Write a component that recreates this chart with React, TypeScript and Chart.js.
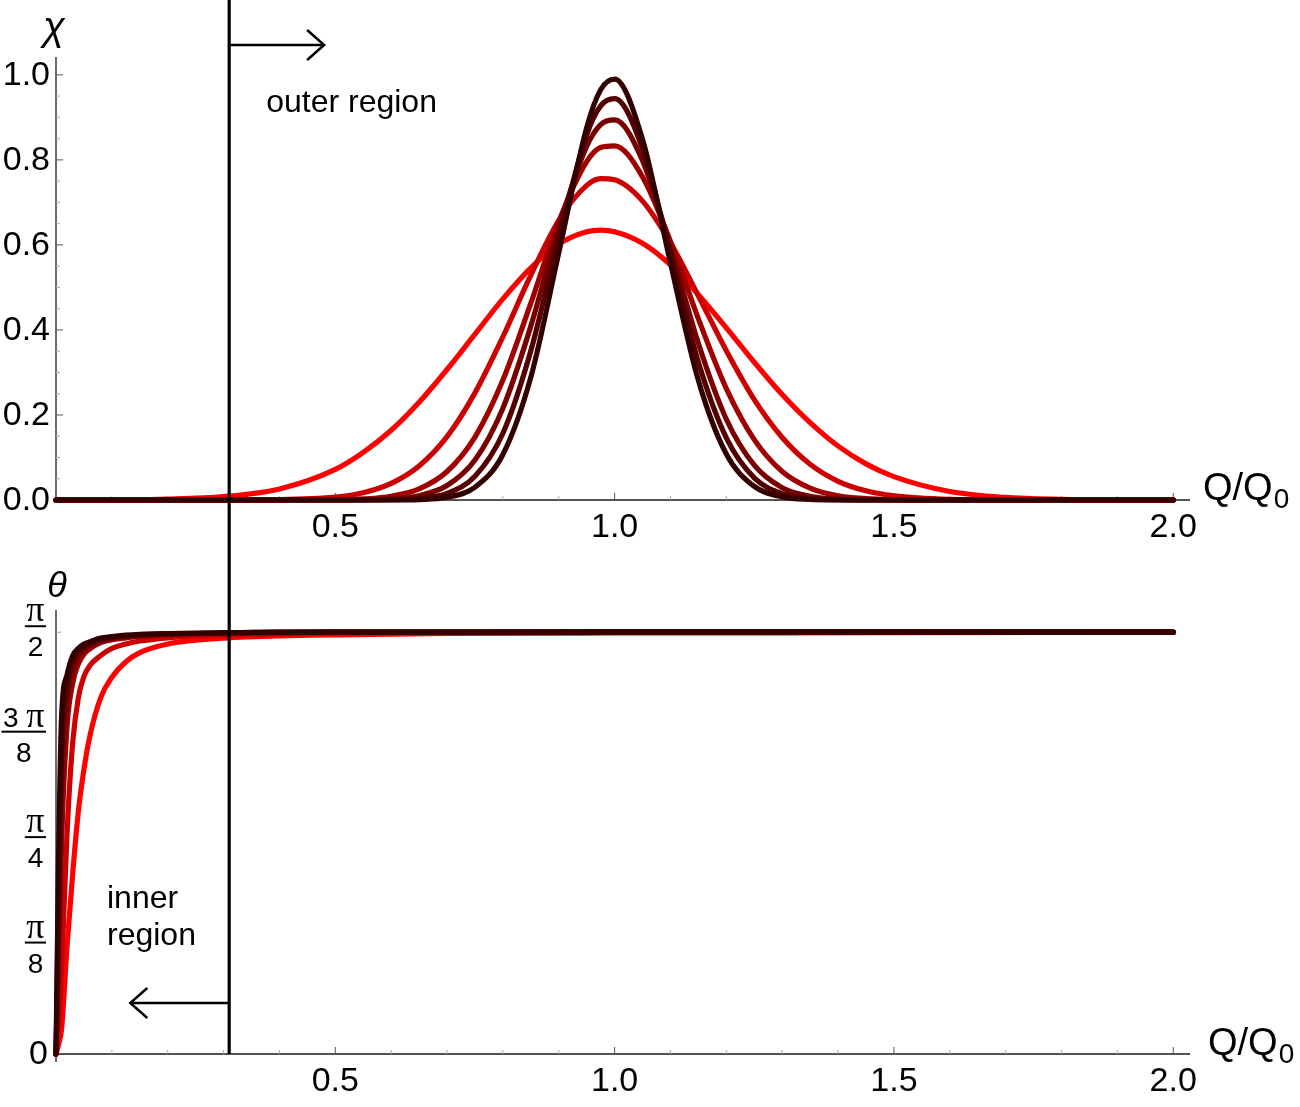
"use client"

import { useEffect, useRef } from "react"
import Chart from "chart.js/auto"

const SANS = '"Liberation Sans", Arial, sans-serif'
const SERIF = '"Liberation Serif", "DejaVu Serif", serif'

// upper panel: chi against Q/Q0
const qTop = [0, 0.1, 0.2, 0.3, 0.4, 0.5, 0.55, 0.6, 0.65, 0.7, 0.75, 0.8, 0.85, 0.9, 0.95, 0.975, 1.0, 1.05, 1.1, 1.15, 1.2, 1.25, 1.3, 1.35, 1.4, 1.45, 1.5, 1.6, 1.7, 1.8, 1.9, 2.0]
const chi1 = [0.0001, 0.0004, 0.002, 0.008, 0.026, 0.072, 0.112, 0.164, 0.23, 0.307, 0.39, 0.473, 0.546, 0.602, 0.631, 0.635, 0.631, 0.604, 0.553, 0.483, 0.405, 0.324, 0.248, 0.182, 0.127, 0.085, 0.055, 0.02, 0.006, 0.0015, 0.0003, 0.0001]
const chi2 = [0, 0, 0, 0.0001, 0.0008, 0.0067, 0.017, 0.039, 0.08, 0.149, 0.252, 0.384, 0.529, 0.658, 0.74, 0.756, 0.753, 0.703, 0.605, 0.48, 0.351, 0.236, 0.147, 0.084, 0.044, 0.0215, 0.0096, 0.0015, 0.0002, 0, 0, 0]
const chi3 = [0, 0, 0, 0, 0, 0.0006, 0.0025, 0.0087, 0.026, 0.067, 0.148, 0.282, 0.463, 0.655, 0.796, 0.829, 0.833, 0.76, 0.608, 0.426, 0.262, 0.142, 0.067, 0.028, 0.01, 0.0032, 0.0009, 0, 0, 0, 0, 0]
const chi4 = [0, 0, 0, 0, 0, 0.0001, 0.0005, 0.0025, 0.0102, 0.034, 0.094, 0.216, 0.409, 0.641, 0.832, 0.883, 0.894, 0.798, 0.594, 0.368, 0.19, 0.082, 0.029, 0.0087, 0.0022, 0.0004, 0.0001, 0, 0, 0, 0, 0]
const chi5 = [0, 0, 0, 0, 0, 0, 0.0001, 0.0006, 0.0035, 0.0156, 0.0558, 0.157, 0.351, 0.618, 0.859, 0.927, 0.944, 0.826, 0.579, 0.324, 0.146, 0.052, 0.015, 0.0035, 0.0006, 0.0001, 0, 0, 0, 0, 0, 0]
const chi6 = [0, 0, 0, 0, 0, 0, 0, 0.0001, 0.001, 0.0063, 0.03, 0.107, 0.289, 0.581, 0.876, 0.965, 0.99, 0.848, 0.557, 0.281, 0.108, 0.032, 0.0073, 0.0013, 0.0002, 0, 0, 0, 0, 0, 0, 0]

// lower panel: theta (radians) against Q/Q0
const qBottom = [0, 0.005, 0.01, 0.02, 0.03, 0.04, 0.05, 0.06, 0.08, 0.1, 0.125, 0.15, 0.2, 0.25, 0.3, 0.4, 0.5, 0.7, 1.0, 1.5, 2.0]
const theta1 = [0, 0.039, 0.094, 0.408, 0.675, 0.903, 1.06, 1.178, 1.327, 1.403, 1.461, 1.495, 1.527, 1.541, 1.549, 1.557, 1.561, 1.566, 1.568, 1.569, 1.571]
const theta2 = [0, 0.11, 0.314, 0.833, 1.162, 1.327, 1.406, 1.445, 1.484, 1.511, 1.527, 1.538, 1.55, 1.557, 1.56, 1.565, 1.568, 1.569, 1.571, 1.571, 1.571]
const theta3 = [0, 0.314, 0.785, 1.225, 1.382, 1.453, 1.489, 1.508, 1.532, 1.543, 1.55, 1.555, 1.561, 1.565, 1.566, 1.569, 1.571, 1.571, 1.571, 1.571, 1.571]
const theta4 = [0, 0.471, 0.974, 1.304, 1.429, 1.48, 1.505, 1.519, 1.538, 1.547, 1.554, 1.558, 1.563, 1.566, 1.568, 1.569, 1.571, 1.571, 1.571, 1.571, 1.571]
const theta5 = [0, 0.628, 1.131, 1.367, 1.461, 1.497, 1.517, 1.527, 1.544, 1.552, 1.557, 1.561, 1.565, 1.566, 1.568, 1.571, 1.571, 1.571, 1.571, 1.571, 1.571]
const theta6 = [0, 0.785, 1.257, 1.414, 1.484, 1.511, 1.527, 1.535, 1.549, 1.555, 1.56, 1.563, 1.566, 1.568, 1.569, 1.571, 1.571, 1.571, 1.571, 1.571, 1.571]

// red -> almost black
const seriesColors = ["#ff0000", "#cc0000", "#a10000", "#780000", "#540000", "#330000"]

// ticks
const xTickValues = [0.5, 1.0, 1.5, 2.0]
const xTickLabels = ["0.5", "1.0", "1.5", "2.0"]
const chiTickValues = [0, 0.2, 0.4, 0.6, 0.8, 1.0]
const chiTickLabels = ["0.0", "0.2", "0.4", "0.6", "0.8", "1.0"]
const thetaTickValues = [0, Math.PI / 8, Math.PI / 4, (3 * Math.PI) / 8, Math.PI / 2]
const thetaTickLabels = [["0"], ["π", "8"], ["π", "4"], ["3 π", "8"], ["π", "2"]]

// boundary between inner and outer region, and arrow tips
const boundaryQ = 0.31
const outerArrowQ = 0.48
const innerArrowQ = 0.133

const X_MAX = 2.03
const AXIS = "#1a1a1a"

function strokeLine(ctx: CanvasRenderingContext2D, x1: number, y1: number, x2: number, y2: number) {
  ctx.beginPath()
  ctx.moveTo(x1, y1)
  ctx.lineTo(x2, y2)
  ctx.stroke()
}

function lineDatasets(q: number[], series: number[][]) {
  return series.map((s, i) => ({
    data: q.map((x, j) => ({ x, y: s[j] })),
    borderColor: seriesColors[i],
    borderWidth: 5.2,
    pointRadius: 0,
    cubicInterpolationMode: "monotone" as const,
    borderJoinStyle: "round" as const,
    borderCapStyle: "round" as const,
    fill: false,
    clip: false as const,
    // darkest curve on top
    order: series.length - i,
  }))
}

function baseOptions(padding: { left: number; right: number; top: number; bottom: number }, yMax: number): any {
  return {
    animation: false,
    responsive: false,
    events: [],
    layout: { padding },
    plugins: { legend: { display: false }, tooltip: { enabled: false } },
    scales: {
      x: { type: "linear", min: 0, max: X_MAX, display: false },
      y: { type: "linear", min: 0, max: yMax, display: false },
    },
  }
}

function drawXAxis(chart: any) {
  const { ctx, chartArea } = chart
  const xs = chart.scales.x
  const y0 = chart.scales.y.getPixelForValue(0)
  ctx.save()
  ctx.lineWidth = 1.3
  ctx.strokeStyle = AXIS
  strokeLine(ctx, chartArea.left, y0, chartArea.right, y0)
  ctx.lineWidth = 1
  for (let i = 1; i <= 20; i++) {
    const px = xs.getPixelForValue(i / 10)
    const major = i % 5 === 0
    ctx.strokeStyle = major ? "#555" : "#aaa"
    strokeLine(ctx, px, y0, px, y0 - (major ? 7 : 4))
  }
  ctx.fillStyle = "#000"
  ctx.font = `34px ${SANS}`
  ctx.textAlign = "center"
  ctx.textBaseline = "alphabetic"
  xTickValues.forEach((v, i) => ctx.fillText(xTickLabels[i], xs.getPixelForValue(v), y0 + 37))
  ctx.restore()
}

function drawQLabel(ctx: CanvasRenderingContext2D, left: number, baseline: number) {
  ctx.save()
  ctx.fillStyle = "#000"
  ctx.textAlign = "left"
  ctx.textBaseline = "alphabetic"
  ctx.font = `38px ${SANS}`
  ctx.fillText("Q/Q", left, baseline)
  const w = ctx.measureText("Q/Q").width
  ctx.font = `28px ${SANS}`
  ctx.fillText("0", left + w + 1, baseline + 8)
  ctx.restore()
}

function drawYAxisLine(chart: any, below: number) {
  const { ctx, chartArea } = chart
  const x0 = chart.scales.x.getPixelForValue(0)
  const y0 = chart.scales.y.getPixelForValue(0)
  ctx.save()
  ctx.lineWidth = 1.3
  ctx.strokeStyle = AXIS
  strokeLine(ctx, x0, y0 + below, x0, chartArea.top)
  ctx.restore()
}

function drawArrow(ctx: CanvasRenderingContext2D, from: number, to: number, y: number) {
  const dir = Math.sign(to - from)
  ctx.save()
  ctx.lineWidth = 2.5
  ctx.strokeStyle = "#000"
  ctx.lineJoin = "miter"
  strokeLine(ctx, from, y, to, y)
  ctx.beginPath()
  ctx.moveTo(to - dir * 17, y - 15)
  ctx.lineTo(to, y)
  ctx.lineTo(to - dir * 17, y + 15)
  ctx.stroke()
  ctx.restore()
}

function drawBoundary(chart: any, bottom: number) {
  const { ctx } = chart
  const px = chart.scales.x.getPixelForValue(boundaryQ)
  ctx.save()
  ctx.lineWidth = 3.2
  ctx.strokeStyle = "#000"
  strokeLine(ctx, px, 0, px, bottom)
  ctx.restore()
  return px
}

const topFrame = {
  id: "topFrame",
  beforeDatasetsDraw(chart: any) {
    const { ctx } = chart
    const xs = chart.scales.x
    const ys = chart.scales.y
    const x0 = xs.getPixelForValue(0)
    drawXAxis(chart)
    drawYAxisLine(chart, 0)
    ctx.save()
    ctx.lineWidth = 1
    for (let i = 1; i <= 20; i++) {
      const py = ys.getPixelForValue(i * 0.05)
      const major = i % 4 === 0
      ctx.strokeStyle = major ? "#555" : "#aaa"
      strokeLine(ctx, x0, py, x0 + (major ? 7 : 4), py)
    }
    ctx.fillStyle = "#000"
    ctx.font = `34px ${SANS}`
    ctx.textAlign = "right"
    ctx.textBaseline = "middle"
    chiTickValues.forEach((v, i) => ctx.fillText(chiTickLabels[i], x0 - 6, ys.getPixelForValue(v) + 1))
    ctx.font = `italic 40px ${SANS}`
    ctx.textAlign = "center"
    ctx.textBaseline = "alphabetic"
    ctx.fillText("χ", x0 - 2, 40)
    ctx.restore()
    drawQLabel(ctx, 1203, ys.getPixelForValue(0))
  },
  afterDatasetsDraw(chart: any) {
    const { ctx } = chart
    const px = drawBoundary(chart, chart.height)
    drawArrow(ctx, px, chart.scales.x.getPixelForValue(outerArrowQ), 45)
    ctx.save()
    ctx.fillStyle = "#000"
    ctx.font = `32px ${SANS}`
    ctx.textAlign = "left"
    ctx.textBaseline = "alphabetic"
    ctx.fillText("outer region", px + 37, 112)
    ctx.restore()
  },
}

function drawFraction(ctx: CanvasRenderingContext2D, parts: string[], right: number, yTick: number) {
  if (parts.length === 1) {
    ctx.font = `34px ${SANS}`
    ctx.textAlign = "right"
    ctx.textBaseline = "middle"
    ctx.fillText(parts[0], right + 2, yTick + 1)
    return
  }
  const [num, den] = parts
  // numerator: optional digit prefix in sans, then pi in serif
  const m = num.match(/^(\d+\s*)?(π)$/)
  const digit = m && m[1] ? m[1] : ""
  ctx.font = `28px ${SANS}`
  const wDigit = digit ? ctx.measureText(digit).width : 0
  const wDen = ctx.measureText(den).width
  ctx.font = `36px ${SERIF}`
  const wPi = ctx.measureText("π").width
  const wNum = wDigit + wPi
  const w = Math.max(wNum, wDen) + 3
  const cx = right - w / 2
  const barY = yTick - 6
  ctx.fillRect(right - w, barY - 1, w, 2)
  ctx.textBaseline = "alphabetic"
  ctx.textAlign = "left"
  const nx = cx - wNum / 2
  if (digit) {
    ctx.font = `28px ${SANS}`
    ctx.fillText(digit, nx, barY - 5)
  }
  ctx.font = `36px ${SERIF}`
  ctx.fillText("π", nx + wDigit, barY - 5)
  ctx.font = `28px ${SANS}`
  ctx.textAlign = "center"
  ctx.fillText(den, cx, barY + 30)
}

const bottomFrame = {
  id: "bottomFrame",
  beforeDatasetsDraw(chart: any) {
    const { ctx } = chart
    const xs = chart.scales.x
    const ys = chart.scales.y
    const x0 = xs.getPixelForValue(0)
    drawXAxis(chart)
    drawYAxisLine(chart, 8)
    ctx.save()
    ctx.lineWidth = 1
    ctx.strokeStyle = "#999"
    ctx.fillStyle = "#000"
    thetaTickValues.forEach((v, i) => {
      const py = ys.getPixelForValue(v)
      if (i > 0) strokeLine(ctx, x0, py, x0 + 5, py)
      drawFraction(ctx, thetaTickLabels[i], x0 - 10, py)
    })
    ctx.font = `italic 36px ${SANS}`
    ctx.textAlign = "center"
    ctx.textBaseline = "alphabetic"
    ctx.fillText("θ", x0 + 1, 37)
    ctx.restore()
    drawQLabel(ctx, 1208, ys.getPixelForValue(0) + 1)
  },
  afterDatasetsDraw(chart: any) {
    const { ctx } = chart
    const y0 = chart.scales.y.getPixelForValue(0)
    const px = drawBoundary(chart, y0)
    drawArrow(ctx, px, chart.scales.x.getPixelForValue(innerArrowQ), 443)
    ctx.save()
    ctx.fillStyle = "#000"
    ctx.font = `32px ${SANS}`
    ctx.textAlign = "left"
    ctx.textBaseline = "alphabetic"
    const left = chart.scales.x.getPixelForValue(0) + 51
    ctx.fillText("inner", left, 348)
    ctx.fillText("region", left, 385)
    ctx.restore()
  },
}

export default function App() {
  const topRef = useRef<HTMLCanvasElement>(null)
  const bottomRef = useRef<HTMLCanvasElement>(null)

  useEffect(() => {
    if (!topRef.current || !bottomRef.current) return

    const top = new Chart(topRef.current, {
      type: "line",
      data: { datasets: lineDatasets(qTop, [chi1, chi2, chi3, chi4, chi5, chi6]) as any },
      options: baseOptions({ left: 56, right: 110, top: 57, bottom: 60 }, 1.042),
      plugins: [topFrame],
    })

    const bottom = new Chart(bottomRef.current, {
      type: "line",
      data: { datasets: lineDatasets(qBottom, [theta1, theta2, theta3, theta4, theta5, theta6]) as any },
      options: baseOptions({ left: 56, right: 110, top: 50, bottom: 53 }, 1.6536),
      plugins: [bottomFrame],
    })

    return () => {
      top.destroy()
      bottom.destroy()
    }
  }, [])

  return (
    <div style={{ position: "absolute", left: 0, top: 0, width: 1300, height: 1107, background: "#fff" }}>
      <canvas ref={topRef} width={1300} height={560} style={{ display: "block", width: 1300, height: 560 }} />
      <canvas ref={bottomRef} width={1300} height={547} style={{ display: "block", width: 1300, height: 547 }} />
    </div>
  )
}
